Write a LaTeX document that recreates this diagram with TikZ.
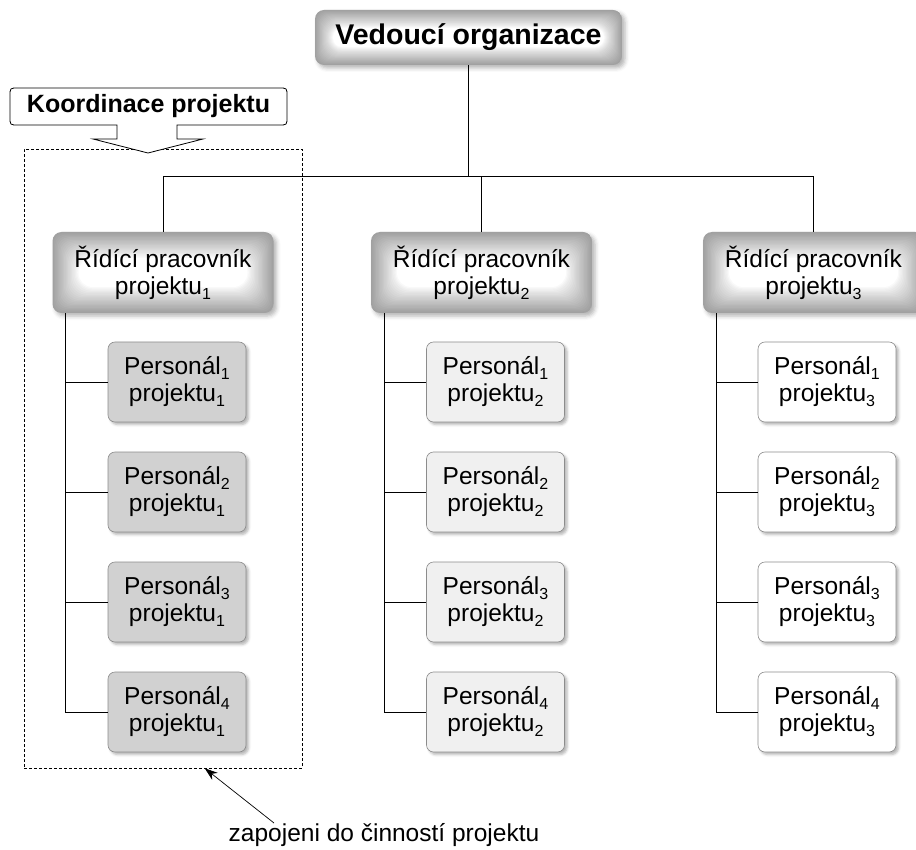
\documentclass[tikz,border=0pt]{standalone}
\usepackage{fontspec}
\setmainfont{Liberation Sans}
\usetikzlibrary{calc,shadows.blur,arrows.meta}
\newcommand\sbs[1]{\raisebox{-5pt}{\fontsize{16}{16}\selectfont #1}}
\begin{document}
\begin{tikzpicture}[x=1pt,y=-1pt,
  txt/.style={font=\fontsize{24.5}{27}\selectfont, align=center},
  glow/.style 2 args={rectangle, rounded corners=9pt, inner sep=0pt, txt,
    blur shadow={shadow xshift=3pt, shadow yshift=-3pt, shadow blur radius=4pt, shadow opacity=30},
    path picture={
      \foreach \i in {0,...,20}{
        \pgfmathsetmacro\c{37*(1-\i/20)^0.9}
        \pgfmathsetmacro\d{#1*\i}
        \pgfmathsetmacro\r{min(9+0.5*\i,#2-\d-0.5)}
        \fill[black!\c!white, rounded corners=\r pt]
          ($(path picture bounding box.south west)+(\d pt,\d pt)$) rectangle
          ($(path picture bounding box.north east)+(-\d pt,-\d pt)$);
      }
    }},
  mgr/.style={glow={1.3}{40.5}, minimum width=221pt, minimum height=81pt},
  staff/.style={rectangle, rounded corners=7pt, draw=black!45, line width=0.6pt,
    minimum width=138pt, minimum height=80pt, inner sep=0pt, txt,
    blur shadow={shadow xshift=2.5pt, shadow yshift=-2.5pt, shadow blur radius=2.5pt, shadow opacity=30}},
  conn/.style={line width=0.8pt, black},
  dbox/.style={draw, line width=0.7pt, dash pattern=on 3pt off 2pt, inner sep=0pt}
]
\useasboundingbox (0,0) rectangle (916,850);
\clip (0,0) rectangle (916,850);

% dashed group box
\node[dbox, minimum width=278pt, minimum height=619pt] (dbox) at (163,458.5) {};

% top
\node[glow={0.9}{27.5}, minimum width=307pt, minimum height=55pt, font=\bfseries\fontsize{28.5}{30}\selectfont] (org) at (468.5,37.5) {Vedoucí organizace};

% managers
\node[mgr] (m1) at (163,272.5) {Řídící pracovník\\projektu\sbs{1}};
\node[mgr] (m2) at (481.5,272.5) {Řídící pracovník\\projektu\sbs{2}};
\node[mgr] (m3) at (813.5,272.5) {Řídící pracovník\\projektu\sbs{3}};

% staff
\foreach \c/\x/\f in {1/177/black!18, 2/495.5/black!6, 3/827/white}{
  \foreach \r in {1,...,4}{
    \node[staff, fill=\f] (s\c\r) at (\x,{382+110*(\r-1)}) {Personál\sbs{\r}\\projektu\sbs{\c}};
  }
}

% connectors
\coordinate (barL) at (163,176);
\coordinate (barR) at (813.5,176);
\draw[conn] (org.south) -- (org.south |- barL);
\draw[conn] (m1.north) -- (barL) -- (barR) -- (m3.north);
\draw[conn] (m2.north) -- (m2.north |- barL);
\foreach \c in {1,2,3}{
  \coordinate (v\c) at ($(m\c.south west)+(13.5pt,0)$);
  \draw[conn] (v\c) |- (s\c4.west);
  \foreach \r in {1,2,3}{
    \draw[conn] (s\c\r.west) -- (s\c\r.west -| v\c);
  }
}

% callout
\draw[line width=0.8pt, fill=white]
  (177,125) -- (279,125) .. controls (287,125) .. (287,117) -- (287,96)
  .. controls (287,88) .. (279,88) -- (18,88) .. controls (10,88) .. (10,96)
  -- (10,117) .. controls (10,125) .. (18,125) -- (117,125) -- (117,139)
  -- (93,139) -- (148,153) -- (203,139) -- (177,139) -- cycle;
\node[font=\bfseries\fontsize{25}{27}\selectfont] (koord) at (148.5,106.5) {Koordinace projektu};

% bottom label
\node[txt] (lbl) at (384,835) {zapojeni do činností projektu};
\coordinate (astart) at (274,823);
\draw[conn, line width=0.7pt, -{Stealth[length=13pt,width=9pt]}] (astart) -- ($(dbox.south west)!0.65!(dbox.south east)$);
\end{tikzpicture}
\end{document}
